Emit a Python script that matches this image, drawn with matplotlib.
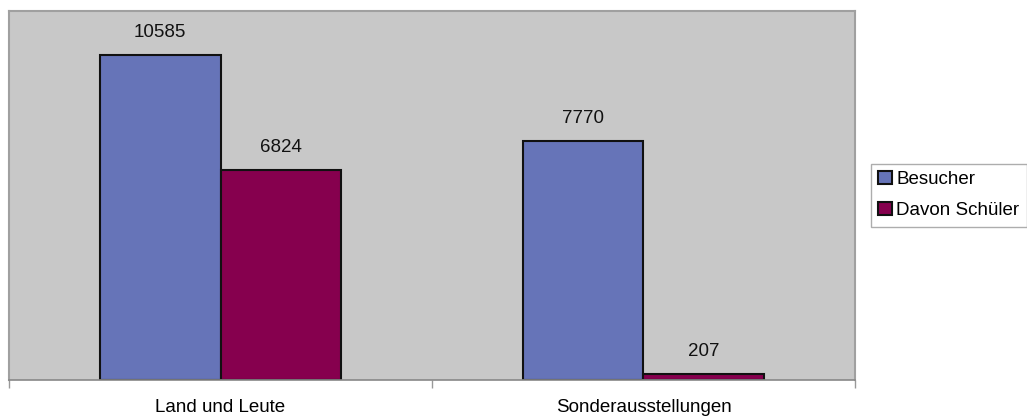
import matplotlib.pyplot as plt
import numpy as np

plt.rcParams["font.family"] = ["Liberation Sans", "DejaVu Sans"]

categories = ["Land und Leute", "Sonderausstellungen"]
besucher = [10585, 7770]
schueler = [6824, 207]
series_names = ["Besucher", "Davon Schüler"]

fig = plt.figure(figsize=(10.27, 4.18), dpi=100)
ax = fig.add_axes([0.0088, 0.091, 0.8237, 0.8827])
ax.set_facecolor("#c8c8c8")

x = np.arange(len(categories))
w = 0.286
b1 = ax.bar(x - w / 2, besucher, w, color="#6674b8", edgecolor="#111111",
            linewidth=1.5, label=series_names[0])
b2 = ax.bar(x + w / 2, schueler, w, color="#86004e", edgecolor="#111111",
            linewidth=1.5, label=series_names[1])

for bars in (b1, b2):
    for rect in bars:
        h = rect.get_height()
        ax.annotate(f"{int(h)}", (rect.get_x() + rect.get_width() / 2, h),
                    xytext=(0, 10), textcoords="offset points",
                    ha="center", va="bottom", fontsize=13.5, color="#111111")

ax.set_xlim(-0.5, 1.5)
ax.set_ylim(0, 12000)
ax.set_yticks([])
ax.set_xticks([-0.5, 0.5, 1.5], minor=False)
ax.set_xticklabels([])
ax.set_xticks(x, minor=True)
ax.set_xticklabels(categories, minor=True, fontsize=13.5)
ax.tick_params(axis="x", which="major", length=6, color="#999999", width=1)
ax.tick_params(axis="x", which="minor", length=0, pad=14)

for s in ["top", "right", "left"]:
    ax.spines[s].set_color("#a0a0a0")
    ax.spines[s].set_linewidth(1.5)
ax.spines["bottom"].set_color("#888888")
ax.spines["bottom"].set_linewidth(1.2)

leg = fig.legend(loc="center left", bbox_to_anchor=(0.848, 0.533),
                 fontsize=13.5, frameon=True, fancybox=False,
                 edgecolor="#999999", handlelength=0.7, handleheight=0.7,
                 handletextpad=0.25, borderpad=0.4, labelspacing=0.75,
                 borderaxespad=0)
leg.get_frame().set_linewidth(1.0)

fig.savefig("out.png", dpi=100)
